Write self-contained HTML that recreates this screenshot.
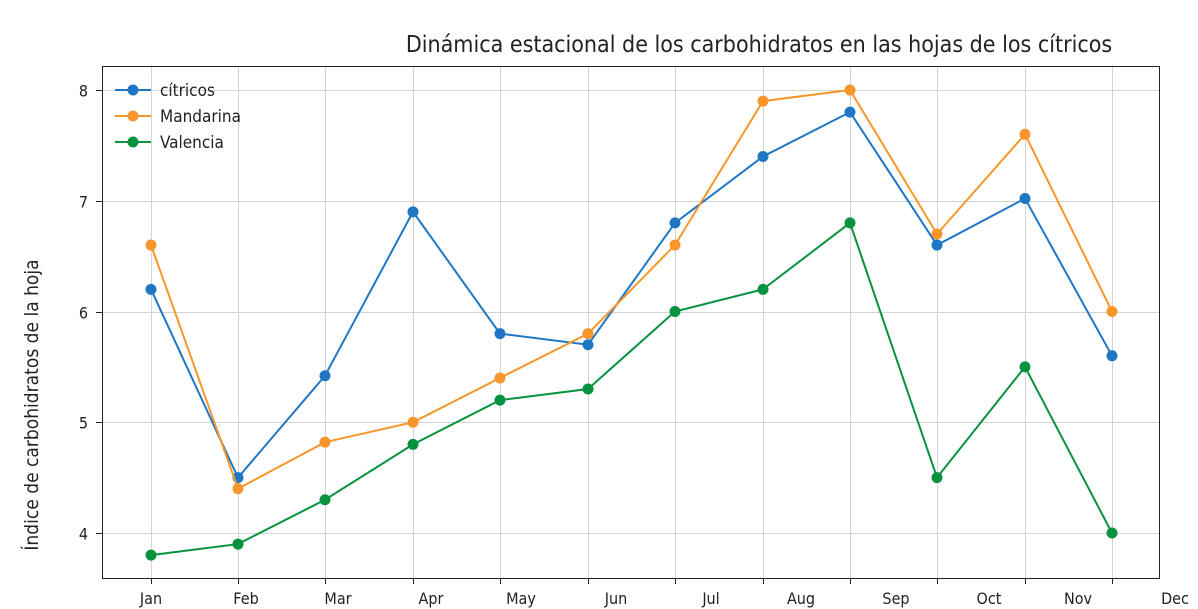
<!DOCTYPE html>
<html><head><meta charset="utf-8"><style>
body{margin:0;background:#fff;}
svg{display:block;font-family:"DejaVu Sans Condensed","Liberation Sans",sans-serif;}
</style></head><body>
<svg id="c" width="1198" height="609" xmlns="http://www.w3.org/2000/svg">
<rect width="1198" height="609" fill="#fff"/>
<g id="grid" stroke="#d3d3d3" stroke-width="1"></g>
<g id="series"></g>
<rect x="102.5" y="66.5" width="1057" height="512" fill="none" stroke="#222" stroke-width="1"/>
<g id="ticks" stroke="#222" stroke-width="1"></g>
<g id="labels" font-size="16" fill="#222"></g>
<text x="759" y="52" font-size="23" text-anchor="middle" fill="#222">Dinámica estacional de los carbohidratos en las hojas de los cítricos</text>
<text transform="translate(38,405) rotate(-90)" font-size="19" text-anchor="middle" fill="#222">Índice de carbohidratos de la hoja</text>
<g font-size="17" fill="#222">
<line x1="115" y1="90" x2="151" y2="90" stroke="#1f77c4" stroke-width="2"/><circle cx="133" cy="90" r="5.5" fill="#1f77c4"/><text x="160" y="96">cítricos</text>
<line x1="115" y1="116" x2="151" y2="116" stroke="#f7962a" stroke-width="2"/><circle cx="133" cy="116" r="5.5" fill="#f7962a"/><text x="160" y="122">Mandarina</text>
<line x1="115" y1="142" x2="151" y2="142" stroke="#07923f" stroke-width="2"/><circle cx="133" cy="142" r="5.5" fill="#07923f"/><text x="160" y="148">Valencia</text>
</g>
</svg>
<script>
const NS="http://www.w3.org/2000/svg";
const xs=[151,238,325,413,500,588,675,763,850,937,1025,1112];
const lx=[151,246,338,431,521,616,711,801,896,989,1078,1175];
const mon=["Jan","Feb","Mar","Apr","May","Jun","Jul","Aug","Sep","Oct","Nov","Dec"];
const Y=v=>90+(8-v)*110.75;
function el(p,t,a,txt){const e=document.createElementNS(NS,t);for(const k in a)e.setAttribute(k,a[k]);if(txt)e.textContent=txt;document.getElementById(p).appendChild(e);}
xs.forEach((x,i)=>{el("grid","line",{x1:x+.5,x2:x+.5,y1:67,y2:578});el("ticks","line",{x1:x+.5,x2:x+.5,y1:578,y2:584});});
lx.forEach((x,i)=>el("labels","text",{x:x,y:604,"text-anchor":"middle"},mon[i]));
[4,5,6,7,8].forEach(v=>{const y=Math.round(Y(v))+.5;el("grid","line",{x1:103,x2:1159,y1:y,y2:y});el("ticks","line",{x1:96,x2:102,y1:y,y2:y});el("labels","text",{x:88,y:y+6,"text-anchor":"end"},String(v));});
const S=[["#1f77c4",[6.2,4.5,5.42,6.9,5.8,5.7,6.8,7.4,7.8,6.6,7.02,5.6]],
["#f7962a",[6.6,4.4,4.82,5.0,5.4,5.8,6.6,7.9,8.0,6.7,7.6,6.0]],
["#07923f",[3.8,3.9,4.3,4.8,5.2,5.3,6.0,6.2,6.8,4.5,5.5,4.0]]];
S.forEach(([c,d])=>{el("series","polyline",{points:d.map((v,i)=>xs[i]+","+Y(v)).join(" "),fill:"none",stroke:c,"stroke-width":2});
d.forEach((v,i)=>el("series","circle",{cx:xs[i],cy:Y(v),r:5.5,fill:c}));});
</script>
</body></html>
